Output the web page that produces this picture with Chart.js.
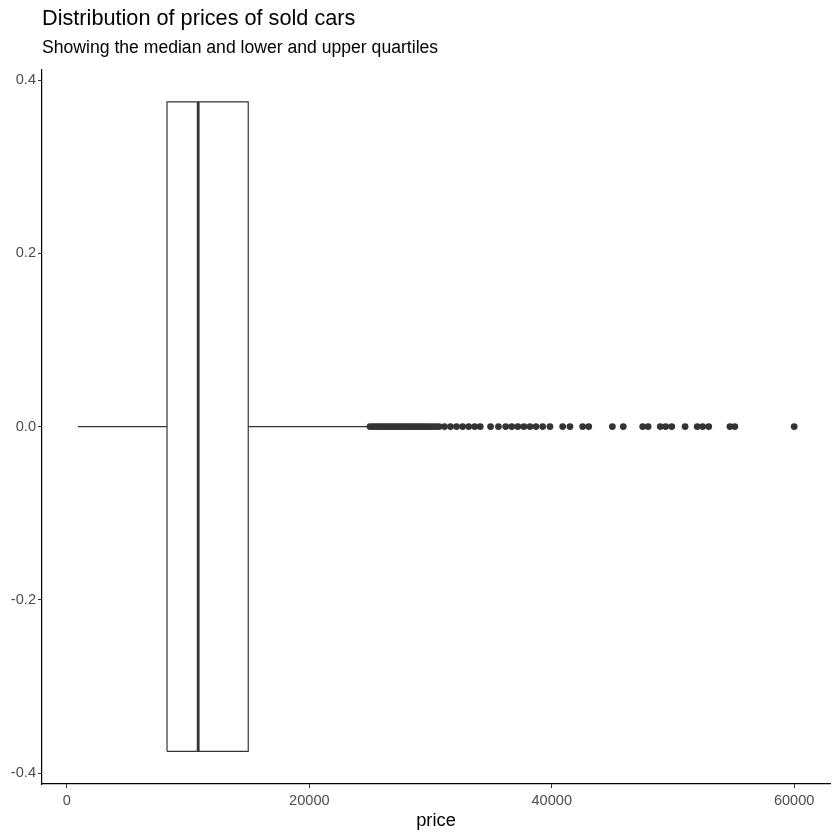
<!DOCTYPE html>
<html>
<head>
<meta charset="utf-8">
<script src="https://cdn.jsdelivr.net/npm/chart.js@4.4.0/dist/chart.umd.min.js"></script>
<style>
  html, body { margin: 0; padding: 0; background: #fff; }
  #wrap { width: 840px; height: 840px; }
</style>
</head>
<body>
<div id="wrap"><canvas id="boxChart" width="840" height="840"></canvas></div>
<script>
// box statistics (price)
const whiskerLow = 900;
const q1 = 8260;
const median = 10830;
const q3 = 14960;
const whiskerHigh = 24990;
const boxHalfWidth = 0.375;

// outliers
const outliers = [
  25000, 25200, 25400, 25600, 25800, 26000, 26200, 26400, 26600, 26800,
  27000, 27200, 27400, 27600, 27800, 28000, 28200, 28400, 28600, 28800,
  29000, 29200, 29400, 29600, 29800, 30000, 30250, 30500, 30700,
  31150, 31650, 32150, 32650, 33150, 33650, 34100, 34950, 35600, 36200,
  36700, 37200, 37700, 38200, 38700, 39250, 39850, 40900, 41500, 42550,
  43050, 45000, 45900, 47500, 47950, 48950, 49400, 49900, 51000, 52000,
  52450, 52950, 54700, 55100, 60000
];

const xTicks = [0, 20000, 40000, 60000];
const yTicks = [-0.4, -0.2, 0.0, 0.2, 0.4];

const ink = '#333333';
const font = 'Liberation Sans, Arial, sans-serif';

const line = (pts, w) => ({
  type: 'line',
  data: pts,
  borderColor: ink,
  borderWidth: w,
  pointRadius: 0,
  fill: false,
  tension: 0
});

const datasets = [
  line([{x: whiskerLow, y: 0}, {x: q1, y: 0}], 1.2),
  line([{x: q3, y: 0}, {x: whiskerHigh, y: 0}], 1.2),
  line([
    {x: q1, y: -boxHalfWidth}, {x: q3, y: -boxHalfWidth},
    {x: q3, y: boxHalfWidth}, {x: q1, y: boxHalfWidth},
    {x: q1, y: -boxHalfWidth}
  ], 1.2),
  line([{x: median, y: -boxHalfWidth}, {x: median, y: boxHalfWidth}], 2.8),
  {
    type: 'scatter',
    data: outliers.map(v => ({x: v, y: 0})),
    backgroundColor: ink,
    borderColor: ink,
    pointRadius: 3.4,
    borderWidth: 0
  }
];

new Chart(document.getElementById('boxChart'), {
  type: 'scatter',
  data: { datasets: datasets },
  options: {
    responsive: false,
    animation: false,
    layout: { padding: { left: 0, right: 10, top: 0, bottom: 0 } },
    plugins: {
      legend: { display: false },
      tooltip: { enabled: false },
      title: {
        display: true,
        text: 'Distribution of prices of sold cars',
        align: 'start',
        fullSize: false,
        color: '#000',
        font: { family: font, size: 21.7, weight: 'normal' },
        padding: { top: 6, bottom: 6 }
      },
      subtitle: {
        display: true,
        text: 'Showing the median and lower and upper quartiles',
        align: 'start',
        fullSize: false,
        color: '#000',
        font: { family: font, size: 17.6, weight: 'normal' },
        padding: { top: 0, bottom: 10 }
      }
    },
    scales: {
      x: {
        type: 'linear',
        min: -2055,
        max: 62955,
        afterBuildTicks: s => { s.ticks = xTicks.map(v => ({value: v})); },
        afterFit: s => { s.height = 56; },
        ticks: {
          color: '#4d4d4d',
          font: { family: font, size: 14.6 },
          padding: 4,
          callback: v => String(v)
        },
        grid: { display: true, drawOnChartArea: false, drawTicks: true, tickLength: 4, color: ink },
        border: { display: true, color: '#000', width: 1.2 },
        title: {
          display: true,
          text: 'price',
          color: '#000',
          font: { family: font, size: 18.3 },
          padding: { top: 4, bottom: 8 }
        }
      },
      y: {
        type: 'linear',
        min: -0.4127,
        max: 0.4127,
        afterBuildTicks: s => { s.ticks = yTicks.map(v => ({value: v})); },
        afterFit: s => { s.width = 42; },
        ticks: {
          color: '#4d4d4d',
          font: { family: font, size: 14.6 },
          padding: 2,
          callback: v => v.toFixed(1)
        },
        grid: { display: true, drawOnChartArea: false, drawTicks: true, tickLength: 4, color: ink },
        border: { display: true, color: '#000', width: 1.2 }
      }
    }
  }
});
</script>
</body>
</html>
